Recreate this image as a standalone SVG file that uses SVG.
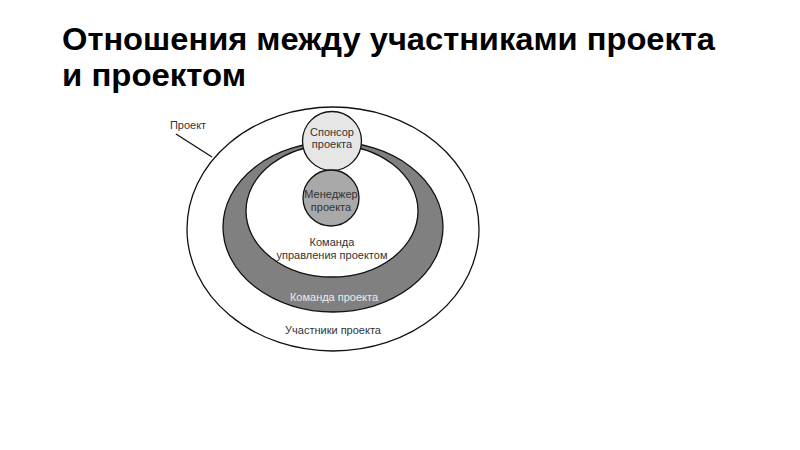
<svg xmlns="http://www.w3.org/2000/svg" width="800" height="450" viewBox="0 0 800 450">
<style>
.title{font-family:"Liberation Sans",Arial,sans-serif;font-weight:bold;font-size:32px;fill:#000}
.lbl{font-family:"Liberation Sans",Arial,sans-serif;font-size:11px;fill:#333;text-anchor:middle}
.ln{stroke:#111;stroke-width:1.3;}
</style>
<rect width="800" height="450" fill="#fff"/>
<g id="title">
<text class="title" x="62" y="50" textLength="653" lengthAdjust="spacingAndGlyphs">Отношения между участниками проекта</text>
<text class="title" x="62" y="86" textLength="184" lengthAdjust="spacingAndGlyphs">и проектом</text>
</g>
<g id="connectors">
<line class="ln" x1="176" y1="134" x2="212" y2="157"/>
</g>
<g id="project">
<ellipse class="ln" cx="333" cy="229" rx="146" ry="122" fill="#fff"/>
<text class="lbl" x="188" y="129">Проект</text>
<text class="lbl" x="333" y="334">Участники проекта</text>
</g>
<g id="project-team">
<ellipse class="ln" cx="333" cy="227" rx="110" ry="85" fill="#808080"/>
<text class="lbl" x="334" y="300.5" style="fill:#ececec">Команда проекта</text>
</g>
<g id="management-team">
<ellipse class="ln" cx="332" cy="211" rx="86" ry="66" fill="#fff"/>
<text class="lbl" x="332" y="245.5">Команда</text>
<text class="lbl" x="332" y="259">управления проектом</text>
</g>
<g id="sponsor">
<circle class="ln" cx="332" cy="141" r="29.5" fill="#e6e6e6"/>
<text class="lbl" x="332" y="136">Спонсор</text>
<text class="lbl" x="332" y="148">проекта</text>
</g>
<g id="manager">
<circle class="ln" cx="331" cy="198" r="28" fill="#a9a9a9"/>
<text class="lbl" x="331" y="198">Менеджер</text>
<text class="lbl" x="331" y="211">проекта</text>
</g>
</svg>
